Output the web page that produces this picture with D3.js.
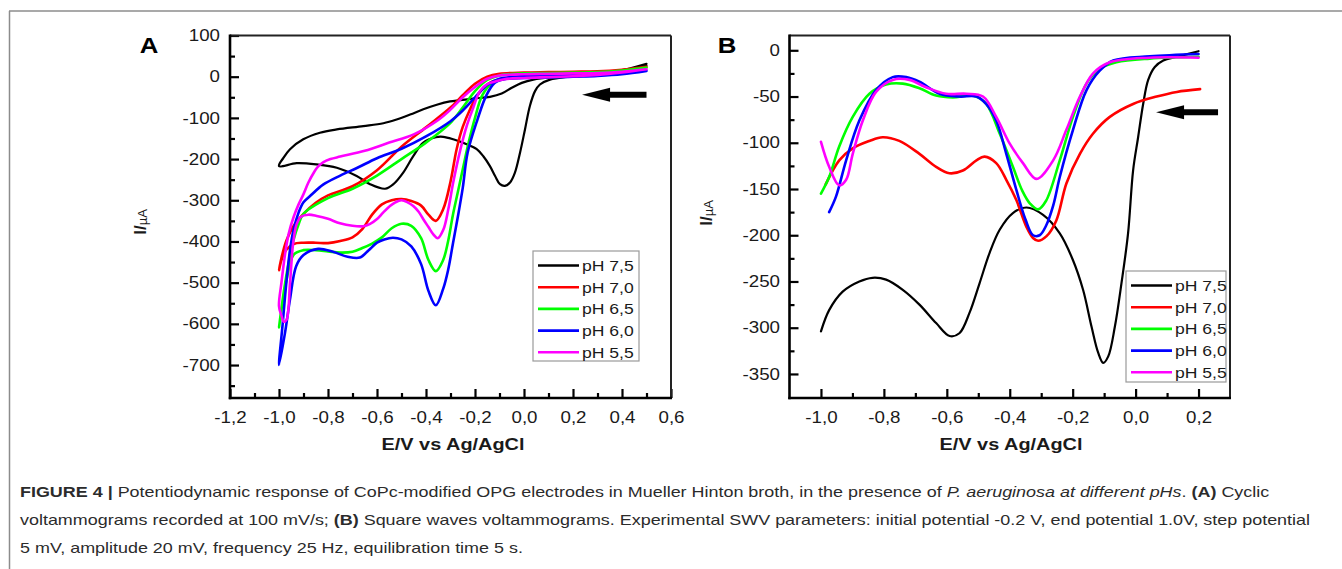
<!DOCTYPE html>
<html><head><meta charset="utf-8">
<script src="https://cdn.jsdelivr.net/npm/d3@7"></script>
<style>
body{margin:0;background:#fff}
svg{display:block}
text{font-family:"Liberation Sans",Arial,Helvetica,sans-serif}
</style>
</head><body>
<svg id="fig" width="1342" height="569"></svg>
<script>
// ---------- series / legend ----------
const seriesNames  = ["pH 7,5","pH 7,0","pH 6,5","pH 6,0","pH 5,5"];
const seriesColors = ["#000000","#ff0000","#00ff00","#0000ff","#ff00ff"];

// ---------- Panel A: cyclic voltammograms (forward sweep 0.5 -> -1.0, then return) ----------
const cv75_fwdE = [0.5,0.4,0.3,0.2,0.106,0.065,0.045,0.024,0.004,-0.016,-0.037,-0.057,-0.078,-0.098,-0.118,-0.139,-0.166,-0.193,-0.234,-0.289,-0.33,-0.36,-0.411,-0.452,-0.493,-0.533,-0.567,-0.628,-0.683,-0.764,-0.846,-0.928,-1.0];
const cv75_fwdI = [28,16,8,1,-7,-19,-35,-71,-128,-184,-233,-257,-265,-261,-241,-217,-193,-176,-164,-152,-146,-147,-160,-193,-233,-261,-272,-261,-241,-221,-213,-210,-217];
const cv75_revE = [-0.982,-0.955,-0.901,-0.833,-0.764,-0.656,-0.574,-0.52,-0.465,-0.411,-0.356,-0.302,-0.26,-0.207,-0.139,-0.091,-0.05,-0.009,0.038,0.106,0.2,0.337,0.419,0.5];
const cv75_revI = [-197,-176,-152,-136,-128,-120,-113,-104,-92,-79,-68,-60,-57,-53,-49,-41,-27,-15,-7,-2,0,8,18,31];

const cv70_fwdE = [0.5,0.4,0.3,0.2,0.1,0.0,-0.08,-0.14,-0.19,-0.22,-0.25,-0.275,-0.30,-0.33,-0.36,-0.39,-0.42,-0.46,-0.50,-0.54,-0.58,-0.62,-0.66,-0.70,-0.75,-0.80,-0.85,-0.90,-0.94,-0.97,-0.99,-1.0];
const cv70_fwdI = [24,14,7,3,1,-1,-5,-15,-45,-79,-122,-176,-255,-322,-350,-335,-313,-302,-297,-300,-310,-335,-370,-390,-399,-404,-403,-403,-406,-420,-445,-470];
const cv70_revE = [-0.99,-0.97,-0.94,-0.9,-0.85,-0.8,-0.7,-0.6,-0.5,-0.4,-0.3,-0.25,-0.2,-0.15,-0.1,0,0.1,0.2,0.3,0.4,0.5];
const cv70_revI = [-440,-398,-362,-333,-306,-288,-266,-227,-170,-123,-75,-45,-17,0,7,10,11,12,13,17,24];

const cv65_fwdE = [0.5,0.4,0.3,0.2,0.1,0,-0.08,-0.13,-0.17,-0.2,-0.23,-0.25,-0.27,-0.29,-0.31,-0.33,-0.36,-0.39,-0.42,-0.46,-0.5,-0.54,-0.58,-0.62,-0.66,-0.70,-0.75,-0.80,-0.85,-0.90,-0.94,-0.97,-0.99,-1.0];
const cv65_fwdI = [22,12,5,1,-1,-2,-5,-15,-45,-100,-170,-225,-280,-335,-400,-445,-472,-445,-392,-362,-357,-368,-390,-405,-416,-425,-427,-424,-421,-421,-432,-495,-565,-609];
const cv65_revE = [-0.98,-0.96,-0.94,-0.92,-0.9,-0.8,-0.7,-0.6,-0.5,-0.4,-0.3,-0.25,-0.2,-0.15,-0.1,0,0.1,0.2,0.3,0.4,0.5];
const cv65_revI = [-520,-450,-395,-358,-333,-295,-272,-240,-200,-160,-112,-75,-35,-8,3,8,9,10,11,15,22];

const cv60_fwdE = [0.5,0.4,0.3,0.2,0.1,0,-0.08,-0.12,-0.155,-0.19,-0.23,-0.25,-0.27,-0.29,-0.31,-0.33,-0.36,-0.39,-0.42,-0.46,-0.5,-0.535,-0.57,-0.6,-0.635,-0.67,-0.72,-0.78,-0.84,-0.9,-0.93,-0.955,-0.975,-1.0];
const cv60_fwdI = [14,6,2,0,-2,-3,-6,-15,-47,-104,-184,-270,-340,-405,-470,-515,-555,-520,-455,-412,-395,-391,-395,-403,-422,-439,-437,-425,-418,-433,-460,-540,-620,-700];
const cv60_revE = [-0.985,-0.97,-0.955,-0.94,-0.92,-0.9,-0.87,-0.82,-0.75,-0.68,-0.6,-0.5,-0.4,-0.3,-0.25,-0.2,-0.15,-0.1,0,0.1,0.2,0.3,0.4,0.5];
const cv60_revI = [-600,-500,-420,-370,-330,-305,-288,-262,-240,-221,-198,-175,-145,-108,-82,-50,-20,-5,2,4,5,6,9,14];

const cv55_fwdE = [0.5,0.4,0.3,0.2,0.1,0,-0.08,-0.12,-0.15,-0.18,-0.21,-0.234,-0.261,-0.289,-0.309,-0.329,-0.352,-0.37,-0.39,-0.411,-0.43,-0.452,-0.475,-0.5,-0.525,-0.547,-0.575,-0.601,-0.63,-0.656,-0.7,-0.751,-0.8,-0.846,-0.88,-0.91,-0.928,-0.942,-0.955,-0.969,-0.98,-0.99,-1.0];
const cv55_fwdI = [18,10,4,1,-1,-3,-6,-12,-18,-35,-80,-120,-180,-257,-322,-371,-392,-383,-365,-346,-328,-314,-305,-300,-305,-314,-330,-346,-358,-363,-362,-356,-345,-338,-335,-340,-358,-403,-500,-590,-595,-580,-557];
const cv55_revE = [-0.99,-0.975,-0.96,-0.94,-0.92,-0.9,-0.88,-0.86,-0.84,-0.82,-0.79,-0.75,-0.65,-0.55,-0.45,-0.35,-0.3,-0.25,-0.2,-0.15,-0.1,0,0.1,0.2,0.3,0.4,0.5];
const cv55_revI = [-500,-430,-380,-340,-310,-285,-257,-235,-218,-208,-200,-194,-180,-160,-140,-105,-80,-50,-25,-5,3,6,7,8,9,12,18];

// ---------- Panel B: square wave voltammograms ----------
const sw75_E = [-1.0,-0.974,-0.931,-0.878,-0.836,-0.793,-0.74,-0.687,-0.634,-0.591,-0.56,-0.528,-0.496,-0.464,-0.432,-0.39,-0.347,-0.294,-0.241,-0.199,-0.167,-0.14,-0.119,-0.103,-0.087,-0.066,-0.045,-0.024,-0.008,0.008,0.024,0.04,0.061,0.088,0.131,0.2];
const sw75_I = [-304,-281,-261,-250,-246,-248,-259,-275,-295,-309,-306,-284,-252,-219,-194,-176,-170,-178,-198,-227,-259,-299,-327,-338,-331,-299,-252,-198,-130,-94,-58,-32,-18,-11,-7,-1];
const sw70_E = [-0.985,-0.942,-0.899,-0.846,-0.804,-0.751,-0.687,-0.634,-0.592,-0.549,-0.506,-0.48,-0.443,-0.411,-0.379,-0.347,-0.326,-0.31,-0.283,-0.252,-0.22,-0.177,-0.135,-0.082,-0.008,0.067,0.131,0.205];
const sw70_I = [-145,-119,-106,-98,-94,-98,-112,-126,-133,-130,-119,-115,-122,-140,-162,-191,-203,-206,-201,-184,-144,-112,-90,-72,-58,-50,-45,-42];
const sw65_E = [-1.0,-0.974,-0.942,-0.899,-0.846,-0.793,-0.74,-0.687,-0.634,-0.581,-0.517,-0.475,-0.432,-0.39,-0.36,-0.335,-0.31,-0.285,-0.241,-0.199,-0.156,-0.114,-0.061,0.045,0.2];
const sw65_I = [-155,-137,-104,-72,-47,-37,-36,-41,-49,-51,-49,-58,-90,-126,-152,-166,-172,-163,-119,-72,-36,-20,-13,-9,-7];
const sw60_E = [-0.974,-0.952,-0.92,-0.878,-0.825,-0.772,-0.729,-0.687,-0.623,-0.56,-0.506,-0.475,-0.443,-0.411,-0.379,-0.35,-0.326,-0.305,-0.285,-0.262,-0.241,-0.199,-0.156,-0.114,-0.071,0.045,0.2];
const sw60_I = [-175,-158,-119,-76,-43,-29,-29,-34,-47,-50,-50,-58,-76,-112,-151,-183,-200,-200,-190,-168,-137,-86,-43,-22,-11,-6.5,-4];
const sw55_E = [-1.0,-0.974,-0.942,-0.92,-0.899,-0.867,-0.825,-0.772,-0.719,-0.666,-0.602,-0.538,-0.485,-0.443,-0.4,-0.358,-0.315,-0.262,-0.22,-0.177,-0.135,-0.082,0.045,0.2];
const sw55_I = [-99,-126,-146,-140,-112,-76,-45,-32,-32,-40,-47,-47,-50,-72,-101,-122,-139,-119,-86,-50,-25,-13,-8,-8];

// ---------- ticks ----------
const ticksAx = [-1.2,-1.0,-0.8,-0.6,-0.4,-0.2,0.0,0.2,0.4,0.6];
const minorAx = [-1.1,-0.9,-0.7,-0.5,-0.3,-0.1,0.1,0.3,0.5];
const ticksAy = [100,0,-100,-200,-300,-400,-500,-600,-700];
const minorAy = [50,-50,-150,-250,-350,-450,-550,-650,-750];
const ticksBx = [-1.0,-0.8,-0.6,-0.4,-0.2,0.0,0.2];
const minorBx = [-0.9,-0.7,-0.5,-0.3,-0.1,0.1];
const ticksBy = [0,-50,-100,-150,-200,-250,-300,-350];
const minorBy = [-25,-75,-125,-175,-225,-275,-325];

// arrows: [tailE, tipE, I]
const arrowA = [0.5, 0.237, -44];
const arrowB = [0.262, 0.065, -67];

const captionLines = [
  [["FIGURE 4 | ","b"],["Potentiodynamic response of CoPc-modified OPG electrodes in Mueller Hinton broth, in the presence of ",""],["P. aeruginosa at different pHs","i"],[". ",""],["(A)","b"],[" Cyclic",""]],
  [["voltammograms recorded at 100 mV/s; ",""],["(B)","b"],[" Square waves voltammograms. Experimental SWV parameters: initial potential -0.2 V, end potential 1.0V, step potential",""]],
  [["5 mV, amplitude 20 mV, frequency 25 Hz, equilibration time 5 s.",""]]
];

// ---------- drawing ----------
const svg = d3.select("#fig");
const STR = 1.17;
function stretch(sel, f){
  f = f || STR;
  sel.each(function(){
    const L = this.getComputedTextLength();
    this.setAttribute("textLength", (L*f).toFixed(1));
    this.setAttribute("lengthAdjust","spacingAndGlyphs");
  });
}
const fmtX = d => (d < -1e-9 ? "-" : "") + Math.abs(d).toFixed(1).replace(".", ",");
const fmtY = d => String(d);

// outer figure border
svg.append("line").attr("x1",9.5).attr("y1",11).attr("x2",9.5).attr("y2",569).attr("stroke","#8c8c8c").attr("stroke-width",1.5);
svg.append("line").attr("x1",9).attr("y1",11).attr("x2",1342).attr("y2",11).attr("stroke","#8c8c8c").attr("stroke-width",1.5);

function panel(cfg){
  const x = d3.scaleLinear().domain(cfg.xd).range(cfg.xr);
  const y = d3.scaleLinear().domain(cfg.yd).range(cfg.yr);
  const g = svg.append("g");
  const [x0,x1] = cfg.xr, [y0,y1] = cfg.yr; // y0 bottom, y1 top

  // curves
  const line = d3.line().x(d=>x(d[0])).y(d=>y(d[1])).curve(d3.curveCatmullRom.alpha(0.5));
  cfg.series.forEach((s,i)=>{
    g.append("path").attr("d", line(s)).attr("fill","none")
     .attr("stroke", seriesColors[i]).attr("stroke-width", i===0 ? 2.2 : 2.6)
     .attr("stroke-linejoin","round").attr("stroke-linecap","round");
  });

  // axes
  const ax = g.append("g").attr("transform",`translate(0,${y0})`)
    .call(d3.axisBottom(x).tickValues(cfg.xt).tickFormat(fmtX).tickSizeInner(-9).tickSizeOuter(0).tickPadding(14));
  g.append("g").attr("transform",`translate(0,${y0})`)
    .call(d3.axisBottom(x).tickValues(cfg.xm).tickFormat("").tickSizeInner(-5).tickSizeOuter(0));
  const ay = g.append("g").attr("transform",`translate(${x0},0)`)
    .call(d3.axisLeft(y).tickValues(cfg.yt).tickFormat(fmtY).tickSizeInner(-9).tickSizeOuter(0).tickPadding(cfg.ypad));
  g.append("g").attr("transform",`translate(${x0},0)`)
    .call(d3.axisLeft(y).tickValues(cfg.ym).tickFormat("").tickSizeInner(-5).tickSizeOuter(0));
  g.selectAll(".domain").remove();
  g.selectAll(".tick line").attr("stroke","#000").attr("stroke-width",2.2);
  g.selectAll(".tick text").attr("font-size",16).attr("fill","#1a1a1a")
    .attr("font-family",'"Liberation Sans",Arial,sans-serif');
  stretch(ax.selectAll(".tick text"));
  stretch(ay.selectAll(".tick text"));

  // frame
  g.append("line").attr("x1",x0).attr("x2",x1).attr("y1",y1).attr("y2",y1).attr("stroke","#222").attr("stroke-width",2);
  g.append("line").attr("x1",x1).attr("x2",x1).attr("y1",y1).attr("y2",y0).attr("stroke","#222").attr("stroke-width",2);
  g.append("line").attr("x1",x0).attr("x2",x0).attr("y1",y1-1).attr("y2",y0+1.2).attr("stroke","#000").attr("stroke-width",2.6);
  g.append("line").attr("x1",x0-1.2).attr("x2",x1+1).attr("y1",y0).attr("y2",y0).attr("stroke","#000").attr("stroke-width",2.6);

  // arrow annotation
  const ar = cfg.arrow;
  const tx = x(ar[1]), ex = x(ar[0]), ay0 = y(ar[2]);
  g.append("line").attr("x1",tx+20).attr("x2",ex).attr("y1",ay0).attr("y2",ay0).attr("stroke","#000").attr("stroke-width",6);
  g.append("path").attr("d",`M${tx},${ay0} L${tx+28},${ay0-7} L${tx+28},${ay0+7} Z`).attr("fill","#000");

  // legend
  const lg = g.append("g");
  const [lx,ly,lw,lh] = cfg.legend;
  lg.append("rect").attr("x",lx).attr("y",ly).attr("width",lw).attr("height",lh)
    .attr("fill","#fff").attr("stroke","#9a9a9a").attr("stroke-width",1.2);
  seriesNames.forEach((n,i)=>{
    const yy = ly + 14.5 + i*21.7;
    lg.append("line").attr("x1",lx+5).attr("x2",lx+46).attr("y1",yy).attr("y2",yy)
      .attr("stroke",seriesColors[i]).attr("stroke-width",2.6);
    lg.append("text").attr("x",lx+49).attr("y",yy+5.5).attr("font-size",15).attr("fill","#1a1a1a").text(n)
      .call(stretch);
  });

  // titles
  g.append("text").attr("x",(cfg.xtitle)).attr("y",450).attr("text-anchor","middle")
    .attr("font-size",17).attr("font-weight","bold").attr("fill","#1a1a1a").text("E/V vs Ag/AgCl").call(stretch);
  const yt = g.append("text").attr("transform",`translate(${cfg.ytitle[0]},${cfg.ytitle[1]}) rotate(-90)`)
    .attr("text-anchor","middle").attr("fill","#1a1a1a");
  yt.append("tspan").attr("font-size",17).attr("font-weight","bold").text("I/");
  yt.append("tspan").attr("font-size",13).attr("dy",1).text("\u00b5A");
  g.append("text").attr("x",cfg.letter[0]).attr("y",cfg.letter[1]).attr("text-anchor","middle")
    .attr("font-size",22).attr("font-weight","bold").attr("fill","#000").text(cfg.name).call(stretch);
}

const join = (E,I) => E.map((e,k)=>[e,I[k]]);

panel({
  name:"A", xd:[-1.2,0.6], xr:[230,671], yd:[-780,100], yr:[398,35.5],
  xt:ticksAx, xm:minorAx, yt:ticksAy, ym:minorAy, ypad:10,
  series:[
    join(cv75_fwdE.concat(cv75_revE), cv75_fwdI.concat(cv75_revI)),
    join(cv70_fwdE.concat(cv70_revE), cv70_fwdI.concat(cv70_revI)),
    join(cv65_fwdE.concat(cv65_revE), cv65_fwdI.concat(cv65_revI)),
    join(cv60_fwdE.concat(cv60_revE), cv60_fwdI.concat(cv60_revI)),
    join(cv55_fwdE.concat(cv55_revE), cv55_fwdI.concat(cv55_revI))
  ],
  arrow:arrowA, legend:[533,251,106,110], xtitle:453, ytitle:[146,222], letter:[149,53]
});

panel({
  name:"B", xd:[-1.1,0.3], xr:[789.5,1230], yd:[-376,16], yr:[398,35.5],
  xt:ticksBx, xm:minorBx, yt:ticksBy, ym:minorBy, ypad:9.5,
  series:[join(sw75_E,sw75_I), join(sw70_E,sw70_I), join(sw65_E,sw65_I), join(sw60_E,sw60_I), join(sw55_E,sw55_I)],
  arrow:arrowB, legend:[1126,271,100,111], xtitle:1011, ytitle:[712,213], letter:[727,53]
});

// caption: one common horizontal scale for all lines
const capY = [497, 525, 553];
const capNodes = captionLines.map((parts,li)=>{
  const t = svg.append("text").attr("x",20).attr("y",capY[li]).attr("font-size",15)
    .attr("fill","#2b2b2b");
  parts.forEach(p=>{
    const ts = t.append("tspan").text(p[0]);
    if (p[1]==="b") ts.attr("font-weight","bold");
    if (p[1]==="i") ts.attr("font-style","italic");
  });
  return t.node();
});
const capScale = 1290 / capNodes[1].getComputedTextLength();
capNodes.forEach(n=>{
  n.setAttribute("textLength",(n.getComputedTextLength()*capScale).toFixed(1));
  n.setAttribute("lengthAdjust","spacingAndGlyphs");
});
</script>
</body></html>
